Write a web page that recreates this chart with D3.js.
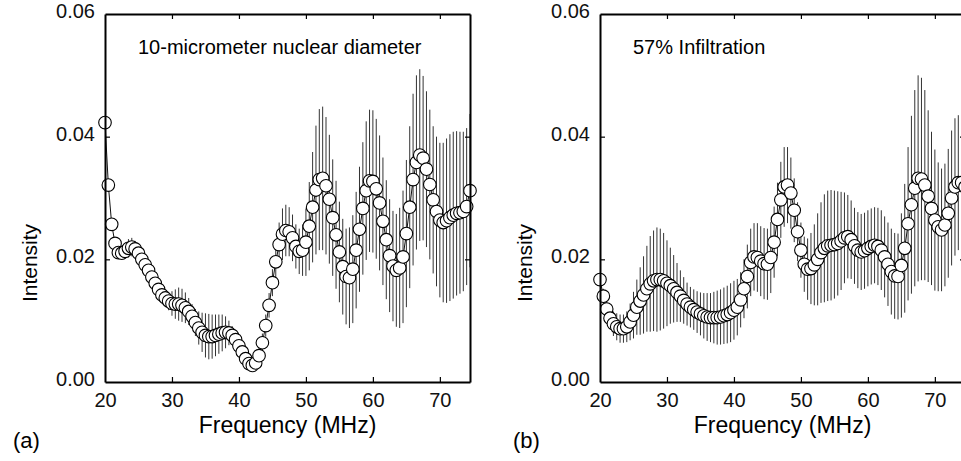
<!DOCTYPE html>
<html>
<head>
<meta charset="utf-8">
<script src="https://cdnjs.cloudflare.com/ajax/libs/d3/7.8.5/d3.min.js"></script>
<style>
  body { margin: 0; background: #fff; }
  svg { display: block; font-family: "Liberation Sans", Arial, sans-serif; }
  .frame path.domain { stroke: #000; stroke-width: 2; }
  .frame line { stroke: #000; stroke-width: 1.2; }
  .frame text { font-size: 20px; fill: #111; font-family: "Liberation Sans", Arial, sans-serif; }
  .err { stroke: #333; stroke-width: 1; }
  .line { fill: none; stroke: #111; stroke-width: 1; }
  .dot { fill: #fff; stroke: #000; stroke-width: 1.1; }
</style>
</head>
<body>
<div id="chart"></div>
<script>

// frequency samples (MHz)
var freq = [
    20, 20.5, 21, 21.5, 22, 22.5, 23, 23.5, 24, 24.5,
    25, 25.5, 26, 26.5, 27, 27.5, 28, 28.5, 29, 29.5,
    30, 30.5, 31, 31.5, 32, 32.5, 33, 33.5, 34, 34.5,
    35, 35.5, 36, 36.5, 37, 37.5, 38, 38.5, 39, 39.5,
    40, 40.5, 41, 41.5, 42, 42.5, 43, 43.5, 44, 44.5,
    45, 45.5, 46, 46.5, 47, 47.5, 48, 48.5, 49, 49.5,
    50, 50.5, 51, 51.5, 52, 52.5, 53, 53.5, 54, 54.5,
    55, 55.5, 56, 56.5, 57, 57.5, 58, 58.5, 59, 59.5,
    60, 60.5, 61, 61.5, 62, 62.5, 63, 63.5, 64, 64.5,
    65, 65.5, 66, 66.5, 67, 67.5, 68, 68.5, 69, 69.5,
    70, 70.5, 71, 71.5, 72, 72.5, 73, 73.5, 74, 74.5];

// (a) 10-micrometer nuclear diameter
var intensityA = [
    0.0423, 0.0321, 0.0257, 0.0226, 0.0211, 0.0210, 0.0213, 0.0218, 0.0220, 0.0217,
    0.0210, 0.0200, 0.0191, 0.0182, 0.0171, 0.0161, 0.0151, 0.0142, 0.0137, 0.0132,
    0.0128, 0.0127, 0.0127, 0.0125, 0.0121, 0.0115, 0.0107, 0.0097, 0.0088, 0.0081,
    0.0076, 0.0074, 0.0074, 0.0076, 0.0078, 0.0080, 0.0081, 0.0080, 0.0076, 0.0069,
    0.0059, 0.0049, 0.0038, 0.0030, 0.0027, 0.0031, 0.0043, 0.0064, 0.0092, 0.0125,
    0.0162, 0.0196, 0.0224, 0.0241, 0.0247, 0.0245, 0.0235, 0.0221, 0.0213, 0.0215,
    0.0228, 0.0254, 0.0285, 0.0313, 0.0330, 0.0332, 0.0320, 0.0298, 0.0268, 0.0240,
    0.0212, 0.0188, 0.0172, 0.0170, 0.0184, 0.0215, 0.0249, 0.0283, 0.0312, 0.0328,
    0.0327, 0.0315, 0.0292, 0.0262, 0.0232, 0.0206, 0.0189, 0.0182, 0.0186, 0.0204,
    0.0242, 0.0285, 0.0330, 0.0358, 0.0370, 0.0365, 0.0347, 0.0322, 0.0297, 0.0278,
    0.0264, 0.0260, 0.0263, 0.0268, 0.0272, 0.0275, 0.0276, 0.0278, 0.0286, 0.0312];

var errorA = [
    0.0004, 0.0005, 0.0005, 0.0006, 0.0008, 0.0010, 0.0012, 0.0015, 0.0015, 0.0013,
    0.0012, 0.0010, 0.0009, 0.0008, 0.0008, 0.0008, 0.0008, 0.0009, 0.0012, 0.0015,
    0.0020, 0.0024, 0.0027, 0.0027, 0.0025, 0.0022, 0.0020, 0.0022, 0.0027, 0.0032,
    0.0036, 0.0037, 0.0036, 0.0034, 0.0032, 0.0030, 0.0026, 0.0020, 0.0015, 0.0010,
    0.0008, 0.0007, 0.0007, 0.0007, 0.0008, 0.0010, 0.0013, 0.0015, 0.0018, 0.0020,
    0.0022, 0.0028, 0.0036, 0.0042, 0.0042, 0.0040, 0.0038, 0.0036, 0.0037, 0.0042,
    0.0055, 0.0072, 0.0090, 0.0105, 0.0115, 0.0117, 0.0112, 0.0105, 0.0095, 0.0088,
    0.0082, 0.0078, 0.0078, 0.0082, 0.0088, 0.0095, 0.0102, 0.0108, 0.0113, 0.0116,
    0.0116, 0.0114, 0.0110, 0.0104, 0.0097, 0.0092, 0.0090, 0.0092, 0.0098, 0.0108,
    0.0120, 0.0132, 0.0140, 0.0142, 0.0140, 0.0134, 0.0127, 0.0122, 0.0120, 0.0122,
    0.0126, 0.0130, 0.0134, 0.0136, 0.0136, 0.0134, 0.0132, 0.0130, 0.0128, 0.0125];

// (b) 57% infiltration
var intensityB = [
    0.0167, 0.0140, 0.0119, 0.0104, 0.0095, 0.0090, 0.0087, 0.0087, 0.0090, 0.0098,
    0.0109, 0.0122, 0.0132, 0.0142, 0.0152, 0.0160, 0.0165, 0.0167, 0.0167, 0.0165,
    0.0161, 0.0157, 0.0152, 0.0146, 0.0140, 0.0133, 0.0127, 0.0122, 0.0118, 0.0114,
    0.0111, 0.0108, 0.0106, 0.0105, 0.0105, 0.0105, 0.0106, 0.0108, 0.0110, 0.0113,
    0.0117, 0.0122, 0.0134, 0.0152, 0.0172, 0.0195, 0.0204, 0.0203, 0.0197, 0.0193,
    0.0192, 0.0203, 0.0228, 0.0265, 0.0297, 0.0318, 0.0321, 0.0308, 0.0280, 0.0245,
    0.0215, 0.0192, 0.0184, 0.0185, 0.0191, 0.0200, 0.0211, 0.0218, 0.0222, 0.0223,
    0.0224, 0.0226, 0.0230, 0.0235, 0.0237, 0.0232, 0.0222, 0.0215, 0.0212, 0.0214,
    0.0218, 0.0221, 0.0223, 0.0221, 0.0215, 0.0204, 0.0192, 0.0180, 0.0173, 0.0172,
    0.0190, 0.0218, 0.0258, 0.0289, 0.0316, 0.0332, 0.0331, 0.0321, 0.0303, 0.0283,
    0.0264, 0.0253, 0.0248, 0.0256, 0.0275, 0.0300, 0.0318, 0.0325, 0.0325, 0.0318];

var errorB = [
    0.0010, 0.0012, 0.0015, 0.0018, 0.0020, 0.0022, 0.0023, 0.0023, 0.0025, 0.0030,
    0.0038, 0.0045, 0.0055, 0.0063, 0.0070, 0.0078, 0.0082, 0.0085, 0.0083, 0.0078,
    0.0070, 0.0062, 0.0055, 0.0048, 0.0042, 0.0038, 0.0035, 0.0033, 0.0033, 0.0034,
    0.0035, 0.0037, 0.0039, 0.0040, 0.0042, 0.0044, 0.0045, 0.0046, 0.0047, 0.0048,
    0.0048, 0.0046, 0.0045, 0.0048, 0.0052, 0.0055, 0.0055, 0.0056, 0.0057, 0.0058,
    0.0058, 0.0058, 0.0058, 0.0060, 0.0062, 0.0065, 0.0062, 0.0058, 0.0052, 0.0048,
    0.0045, 0.0045, 0.0050, 0.0058, 0.0066, 0.0075, 0.0082, 0.0088, 0.0090, 0.0090,
    0.0088, 0.0085, 0.0080, 0.0074, 0.0068, 0.0064, 0.0062, 0.0062, 0.0062, 0.0062,
    0.0062, 0.0062, 0.0062, 0.0063, 0.0065, 0.0066, 0.0068, 0.0070, 0.0070, 0.0070,
    0.0085, 0.0105, 0.0125, 0.0145, 0.0160, 0.0168, 0.0165, 0.0155, 0.0140, 0.0125,
    0.0115, 0.0105, 0.0100, 0.0100, 0.0105, 0.0110, 0.0112, 0.0110, 0.0105, 0.0100];

var xTicks = [20, 30, 40, 50, 60, 70];
var yTicks = [0, 0.02, 0.04, 0.06];

var width = 961,
    height = 461,
    plotTop = 14,
    plotBottom = 382,
    plotWidth = 365;

var svg = d3.select("#chart").append("svg")
    .attr("width", width)
    .attr("height", height);

var y = d3.scaleLinear().domain([0, 0.06]).range([plotBottom, plotTop]);

drawPanel(105, intensityA, errorA, "10-micrometer nuclear diameter", "(a)", 13);
drawPanel(600, intensityB, errorB, "57% Infiltration", "(b)", 513);

function drawPanel(left, values, errors, note, letter, letterX) {

    var x = d3.scaleLinear().domain([20, 74.5]).range([left, left + plotWidth]);

    var data = freq.map(function(f, i) {
        return {f: f, v: values[i], e: errors[i]};
    });

    var g = svg.append("g");

    // error bars
    g.selectAll(".err")
        .data(data)
        .enter().append("line")
        .attr("class", "err")
        .attr("x1", function(d) { return x(d.f); })
        .attr("x2", function(d) { return x(d.f); })
        .attr("y1", function(d) { return y(d.v - d.e); })
        .attr("y2", function(d) { return y(d.v + d.e); });

    // connecting line
    var valueline = d3.line()
        .x(function(d) { return x(d.f); })
        .y(function(d) { return y(d.v); });

    g.append("path")
        .datum(data)
        .attr("class", "line")
        .attr("d", valueline);

    // open circles
    g.selectAll(".dot")
        .data(data)
        .enter().append("circle")
        .attr("class", "dot")
        .attr("cx", function(d) { return x(d.f); })
        .attr("cy", function(d) { return y(d.v); })
        .attr("r", 6.3);

    // bottom axis
    g.append("g")
        .attr("class", "frame")
        .attr("transform", "translate(0," + plotBottom + ")")
        .call(d3.axisBottom(x).tickValues(xTicks).tickSizeInner(-5).tickSizeOuter(0).tickPadding(11));

    // top axis
    g.append("g")
        .attr("class", "frame")
        .attr("transform", "translate(0," + plotTop + ")")
        .call(d3.axisTop(x).tickValues(xTicks).tickSizeInner(-5).tickSizeOuter(0).tickFormat(""));

    // left axis
    var yAxis = g.append("g")
        .attr("class", "frame")
        .attr("transform", "translate(" + left + ",0)")
        .call(d3.axisLeft(y).tickValues(yTicks).tickSizeInner(-5).tickSizeOuter(0)
            .tickPadding(10).tickFormat(d3.format(".2f")));
    yAxis.selectAll("text").attr("dy", "0.18em");

    // right axis
    g.append("g")
        .attr("class", "frame")
        .attr("transform", "translate(" + (left + plotWidth) + ",0)")
        .call(d3.axisRight(y).tickValues(yTicks).tickSizeInner(-5).tickSizeOuter(0).tickFormat(""));

    // hide the tick lines that sit on the frame corners
    g.selectAll(".frame .tick line")
        .filter(function(d) { return d === 20 || d === 0 || d === 0.06; })
        .remove();

    // note inside the plot
    g.append("text")
        .attr("x", left + 33)
        .attr("y", 54)
        .style("font-size", "20px")
        .text(note);

    // axis titles
    g.append("text")
        .attr("x", left + plotWidth / 2)
        .attr("y", 433)
        .attr("text-anchor", "middle")
        .style("font-size", "23px")
        .text("Frequency (MHz)");

    g.append("text")
        .attr("transform", "translate(" + (left - 68) + ",263) rotate(-90)")
        .attr("text-anchor", "middle")
        .style("font-size", "21px")
        .text("Intensity");

    g.append("text")
        .attr("x", letterX)
        .attr("y", 448)
        .style("font-size", "22px")
        .text(letter);
}

</script>
</body>
</html>
